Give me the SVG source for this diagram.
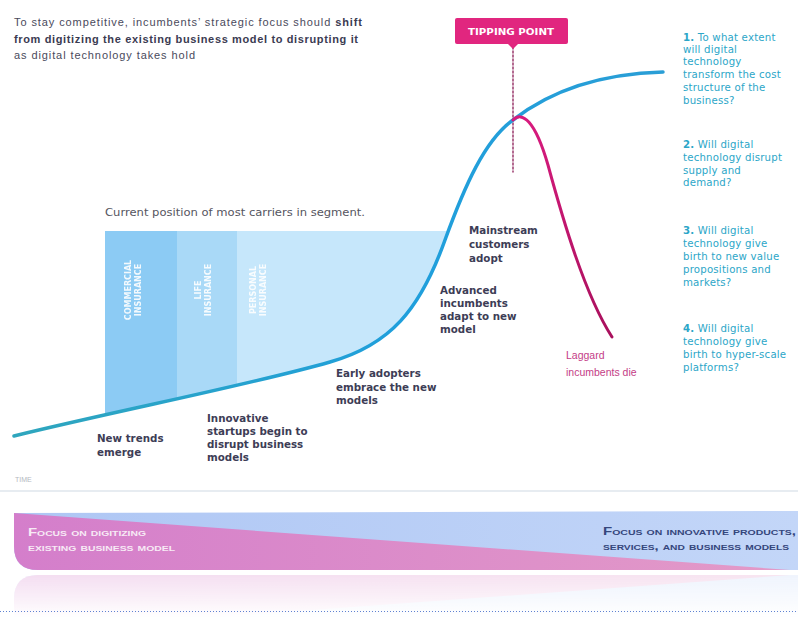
<svg xmlns="http://www.w3.org/2000/svg" width="798" height="630" viewBox="0 0 798 630">
  <defs>
    <style>
      .title { font-family: "Liberation Sans", Arial, sans-serif; font-size: 11px; fill: #4a4a5c; }
      .title .b { font-weight: bold; fill: #3b3b52; }
      .note { font-family: "DejaVu Sans", "Liberation Sans", sans-serif; font-size: 10.5px; fill: #555560; }
      .stage { font-family: "DejaVu Sans", "Liberation Sans", sans-serif; font-size: 10.3px; font-weight: bold; fill: #3d3d56; }
      .q { font-family: "DejaVu Sans", "Liberation Sans", sans-serif; font-size: 10.2px; fill: #2ba6c8; letter-spacing: 0.2px; }
      .q .n { font-weight: bold; }
      .lag { font-family: "Liberation Sans", Arial, sans-serif; font-size: 10.5px; fill: #c43c86; }
      .seg { font-family: "DejaVu Sans", "Liberation Sans", sans-serif; font-size: 8px; font-weight: bold; fill: #ffffff; opacity: 0.9; }
      .band { font-family: "Liberation Sans", Arial, sans-serif; font-size: 11.5px; font-weight: bold; font-variant: small-caps; }
    </style>
    <linearGradient id="adoption" x1="14" y1="0" x2="663" y2="0" gradientUnits="userSpaceOnUse">
      <stop offset="0" stop-color="#2fa6bd"/>
      <stop offset="0.6" stop-color="#1f9fdc"/>
      <stop offset="1" stop-color="#2a9ed6"/>
    </linearGradient>
    <linearGradient id="decline" x1="0" y1="118" x2="0" y2="340" gradientUnits="userSpaceOnUse">
      <stop offset="0" stop-color="#d81b7e"/>
      <stop offset="1" stop-color="#a8105c"/>
    </linearGradient>
    <linearGradient id="bandBlue" x1="0" y1="0" x2="1" y2="0">
      <stop offset="0" stop-color="#aec6f4"/>
      <stop offset="1" stop-color="#c3d6f8"/>
    </linearGradient>
    <linearGradient id="bandPink" x1="0" y1="0" x2="1" y2="0">
      <stop offset="0" stop-color="#d47ecb"/>
      <stop offset="1" stop-color="#e39ac8"/>
    </linearGradient>
    <linearGradient id="fade" x1="0" y1="0" x2="0" y2="1">
      <stop offset="0" stop-color="#ffffff" stop-opacity="0.45"/>
      <stop offset="1" stop-color="#ffffff" stop-opacity="0"/>
    </linearGradient>
    <mask id="reflectMask" maskUnits="userSpaceOnUse" x="0" y="573" width="798" height="45">
      <rect x="0" y="573" width="798" height="45" fill="url(#fade)"/>
    </mask>
    <!-- region above the adoption curve, used to trim the segment blocks -->
    <clipPath id="aboveCurve">
      <path d="M14,436 C120,410 250,385 330,362 C390,345 420,310 445,240 L449,228 L449,200 L0,200 L0,436 Z"/>
    </clipPath>
    <clipPath id="bandShape">
      <path d="M14,513 L798,511 L798,570 L38,570 Q14,570 14,546 Z"/>
    </clipPath>
  </defs>

  <rect width="798" height="630" fill="#ffffff"/>

  <!-- headline -->
  <g id="headline">
    <text class="title" x="14" y="26" textLength="348" lengthAdjust="spacing">To stay competitive, incumbents’ strategic focus should <tspan class="b">shift</tspan></text>
    <text class="title" x="14" y="43" textLength="344" lengthAdjust="spacing"><tspan class="b">from digitizing the existing business model to disrupting it</tspan></text>
    <text class="title" x="14" y="59" textLength="181" lengthAdjust="spacing">as digital technology takes hold</text>
  </g>

  <!-- carrier segments -->
  <g id="segments">
    <text class="note" x="105" y="216" textLength="260" lengthAdjust="spacingAndGlyphs">Current position of most carriers in segment.</text>
    <g clip-path="url(#aboveCurve)">
      <rect x="105" y="231" width="72" height="215" fill="#8ccbf4"/>
      <rect x="177" y="231" width="60" height="215" fill="#a9d9f7"/>
      <rect x="237" y="231" width="215" height="215" fill="#c6e7fb"/>
    </g>
    <g class="seg" text-anchor="middle">
      <text transform="translate(131,290) rotate(-90)">COMMERCIAL</text>
      <text transform="translate(141,290) rotate(-90)">INSURANCE</text>
      <text transform="translate(201,290) rotate(-90)">LIFE</text>
      <text transform="translate(211,290) rotate(-90)">INSURANCE</text>
      <text transform="translate(256,290) rotate(-90)">PERSONAL</text>
      <text transform="translate(266,290) rotate(-90)">INSURANCE</text>
    </g>
  </g>

  <!-- time axis -->
  <g id="axis">
    <text x="15" y="482" font-family="Liberation Sans, Arial, sans-serif" font-size="7" fill="#b4b8c0">TIME</text>
    <line x1="0" y1="491" x2="798" y2="491" stroke="#dfe6ec" stroke-width="1.5"/>
  </g>

  <!-- curves -->
  <g id="connectors" fill="none" stroke-linecap="round">
    <line x1="513" y1="47" x2="513" y2="172" stroke="#8a1a55" stroke-width="1.3" stroke-dasharray="2 2"/>
    <path d="M14,436 C120,410 250,385 330,362 C390,345 420,310 445,240 C465,185 485,140 513,120 C545,95 590,74 663,72" stroke="url(#adoption)" stroke-width="3.5"/>
    <path d="M513,120 C522,111 535,120 548,165 C563,220 585,295 612,337" stroke="url(#decline)" stroke-width="3"/>
  </g>

  <!-- tipping point marker -->
  <g id="tipping-point">
    <rect x="455" y="18" width="113" height="26" rx="2" fill="#e1267f"/>
    <path d="M508,44 L518,44 L513,49 Z" fill="#e1267f"/>
    <text x="511" y="35" text-anchor="middle" font-family="DejaVu Sans, Liberation Sans, sans-serif" font-size="9.5" font-weight="bold" fill="#ffffff" textLength="86" lengthAdjust="spacingAndGlyphs">TIPPING POINT</text>
  </g>

  <!-- adoption stages -->
  <g id="stage-trends">
    <text class="stage" x="97" y="442">New trends</text>
    <text class="stage" x="97" y="456">emerge</text>
  </g>
  <g id="stage-startups">
    <text class="stage" x="207" y="422">Innovative</text>
    <text class="stage" x="207" y="435">startups begin to</text>
    <text class="stage" x="207" y="448">disrupt business</text>
    <text class="stage" x="207" y="461">models</text>
  </g>
  <g id="stage-early">
    <text class="stage" x="336" y="377">Early adopters</text>
    <text class="stage" x="336" y="391">embrace the new</text>
    <text class="stage" x="336" y="404">models</text>
  </g>
  <g id="stage-advanced">
    <text class="stage" x="440" y="294">Advanced</text>
    <text class="stage" x="440" y="307">incumbents</text>
    <text class="stage" x="440" y="320">adapt to new</text>
    <text class="stage" x="440" y="333">model</text>
  </g>
  <g id="stage-mainstream">
    <text class="stage" x="469" y="234">Mainstream</text>
    <text class="stage" x="469" y="248">customers</text>
    <text class="stage" x="469" y="262">adopt</text>
  </g>
  <g id="stage-laggard">
    <text class="lag" x="566" y="359">Laggard</text>
    <text class="lag" x="566" y="376">incumbents die</text>
  </g>

  <!-- questions -->
  <g id="question-1">
    <text class="q" x="683" y="41"><tspan class="n">1.</tspan> To what extent</text>
    <text class="q" x="683" y="53">will digital</text>
    <text class="q" x="683" y="65">technology</text>
    <text class="q" x="683" y="78">transform the cost</text>
    <text class="q" x="683" y="91">structure of the</text>
    <text class="q" x="683" y="104">business?</text>
  </g>
  <g id="question-2">
    <text class="q" x="683" y="148"><tspan class="n">2.</tspan> Will digital</text>
    <text class="q" x="683" y="161">technology disrupt</text>
    <text class="q" x="683" y="174">supply and</text>
    <text class="q" x="683" y="186">demand?</text>
  </g>
  <g id="question-3">
    <text class="q" x="683" y="234"><tspan class="n">3.</tspan> Will digital</text>
    <text class="q" x="683" y="247">technology give</text>
    <text class="q" x="683" y="260">birth to new value</text>
    <text class="q" x="683" y="273">propositions and</text>
    <text class="q" x="683" y="286">markets?</text>
  </g>
  <g id="question-4">
    <text class="q" x="683" y="332"><tspan class="n">4.</tspan> Will digital</text>
    <text class="q" x="683" y="345">technology give</text>
    <text class="q" x="683" y="358">birth to hyper-scale</text>
    <text class="q" x="683" y="371">platforms?</text>
  </g>

  <!-- focus band -->
  <g id="focus-band">
    <g clip-path="url(#bandShape)">
      <rect x="0" y="505" width="798" height="70" fill="url(#bandBlue)"/>
      <path d="M14,513 L790,570 L14,570 Z" fill="url(#bandPink)"/>
    </g>
    <text class="band" x="28" y="536" fill="#f7eaf5" textLength="118" lengthAdjust="spacingAndGlyphs">Focus on digitizing</text>
    <text class="band" x="28" y="551" fill="#f7eaf5" textLength="147" lengthAdjust="spacingAndGlyphs">existing business model</text>
    <text class="band" x="603" y="535" fill="#35467c" textLength="193" lengthAdjust="spacingAndGlyphs">Focus on innovative  products,</text>
    <text class="band" x="603" y="550" fill="#35467c" textLength="186" lengthAdjust="spacingAndGlyphs">services, and business models</text>
  </g>

  <!-- soft mirror under the band -->
  <g id="band-reflection" mask="url(#reflectMask)" opacity="0.6">
    <g transform="translate(0,1145) scale(1,-1)" clip-path="url(#bandShape)">
      <rect x="0" y="505" width="798" height="70" fill="url(#bandBlue)"/>
      <path d="M14,513 L790,570 L14,570 Z" fill="url(#bandPink)"/>
    </g>
  </g>

  <line x1="0" y1="611.5" x2="798" y2="611.5" stroke="#5f82d2" stroke-width="1" stroke-dasharray="1 2"/>
</svg>
